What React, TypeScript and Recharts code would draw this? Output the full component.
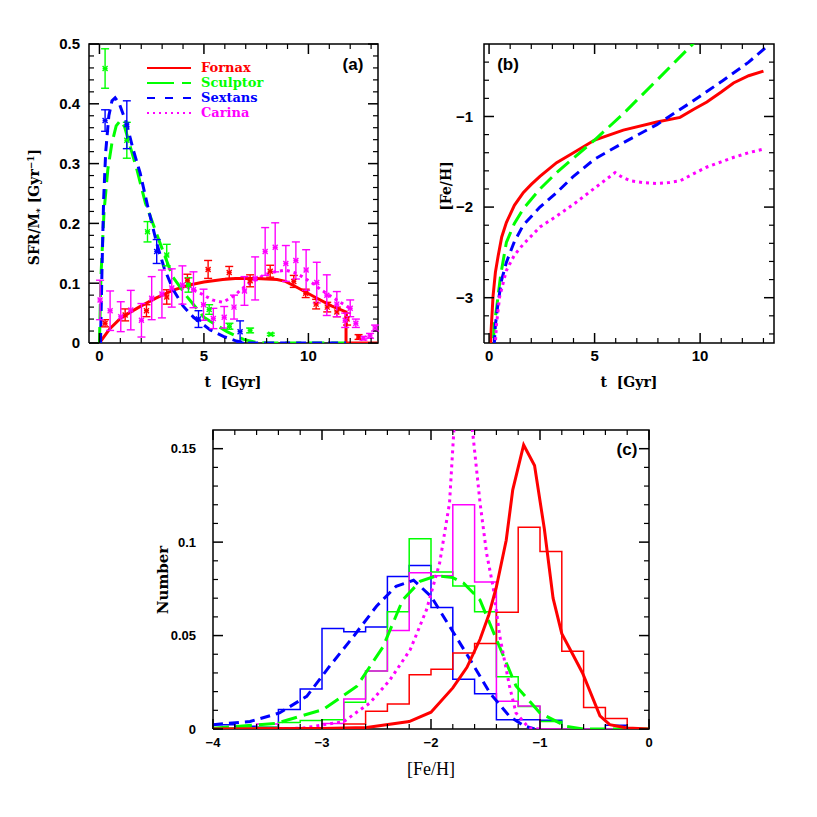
import React from "react";
import { ComposedChart, Line, Scatter, ErrorBar, XAxis, YAxis } from "recharts";

const RED = "#ff0000";
const GREEN = "#00ff00";
const BLUE = "#0000ff";
const MAGENTA = "#ff00ff";

// ---- panel (a): SFR / M* vs t ----
const sfrFornax = [
  [0, 0], [0.5, 0.024], [1, 0.041], [1.5, 0.052], [2, 0.062], [2.7, 0.075], [3.5, 0.088],
  [4.3, 0.097], [5, 0.102], [5.9, 0.106], [6.5, 0.108], [7.5, 0.108], [8.5, 0.106], [8.9, 0.103],
  [9.4, 0.094], [10.3, 0.077], [11.1, 0.062], [11.8, 0.052], [11.8, 0], [13.3, 0],
];
const sfrSculptor = [
  [0, 0], [0.07, 0.11], [0.22, 0.22], [0.4, 0.29], [0.6, 0.335], [0.8, 0.363], [1.0, 0.372],
  [1.2, 0.362], [1.5, 0.325], [1.8, 0.289], [2.2, 0.234], [2.9, 0.167], [3.5, 0.111], [4.2, 0.077],
  [5, 0.043], [6.1, 0.019], [6.9, 0.006], [7.5, 0.001], [8, 0], [11.8, 0],
];
const sfrSextans = [
  [0.05, 0], [0.12, 0.12], [0.2, 0.24], [0.3, 0.32], [0.45, 0.38], [0.6, 0.405], [0.75, 0.41],
  [0.95, 0.4], [1.3, 0.367], [1.6, 0.325], [1.95, 0.284], [2.3, 0.23], [2.74, 0.167], [3.1, 0.125],
  [3.53, 0.089], [4.0, 0.062], [4.5, 0.043], [5.3, 0.022], [6.0, 0.01], [6.5, 0.004], [7, 0], [11.8, 0],
];
const sfrCarina = [
  [4.2, 0.093], [4.6, 0.087], [5.0, 0.08], [5.4, 0.072], [5.9, 0.068], [6.5, 0.08], [6.75, 0.089],
  [7.2, 0.1], [7.6, 0.108], [7.9, 0.114], [8.4, 0.119], [8.9, 0.122], [9.3, 0.118], [9.7, 0.111],
  [10.2, 0.1], [10.6, 0.089], [11.3, 0.073], [11.85, 0.061], [12.0, 0.058],
];

// observed SFR points: [t, value, error]
const obsFornax = [
  [0.27, 0.033, 0.006], [1.23, 0.047, 0.01], [2.25, 0.054, 0.01], [3.22, 0.077, 0.012],
  [4.21, 0.105, 0.01], [5.2, 0.123, 0.015], [6.21, 0.118, 0.01], [7.21, 0.104, 0.01],
  [8.17, 0.12, 0.01], [9.3, 0.103, 0.01], [9.87, 0.083, 0.007], [10.37, 0.065, 0.008],
  [10.9, 0.06, 0.008], [11.36, 0.052, 0.008], [11.85, 0.04, 0.01], [12.4, 0.01, 0.004],
];
const obsSculptor = [
  [0.27, 0.459, 0.033], [1.31, 0.339, 0.03], [2.3, 0.186, 0.017], [3.22, 0.147, 0.018],
  [4.26, 0.097, 0.012], [5.25, 0.056, 0.008], [6.22, 0.028, 0.005], [7.21, 0.021, 0.004],
  [8.2, 0.0145, 0.002],
];
const obsSextans = [
  [0.27, 0.372, 0.018], [1.31, 0.365, 0.04], [2.74, 0.153, 0.02], [4.74, 0.04, 0.014],
  [6.73, 0.019, 0.018],
];
const obsCarina = [
  [0.03, 0.072, 0.033], [0.51, 0.054, 0.033], [1.02, 0.044, 0.025], [1.5, 0.055, 0.033],
  [2.01, 0.038, 0.028], [2.5, 0.075, 0.036], [2.99, 0.082, 0.04], [3.46, 0.092, 0.032],
  [3.97, 0.097, 0.032], [4.5, 0.089, 0.03], [4.98, 0.064, 0.026], [5.45, 0.041, 0.017],
  [5.97, 0.043, 0.018], [6.44, 0.06, 0.02], [6.94, 0.087, 0.024], [7.45, 0.108, 0.036],
  [7.93, 0.153, 0.04], [8.41, 0.16, 0.041], [8.92, 0.133, 0.03], [9.4, 0.138, 0.031],
  [9.89, 0.122, 0.034], [10.4, 0.101, 0.034], [10.88, 0.08, 0.034], [11.36, 0.065, 0.021],
  [11.76, 0.038, 0.012], [12.0, 0.058, 0.014], [12.27, 0.033, 0.007], [12.63, 0.008, 0.003],
  [12.95, 0.012, 0.004], [13.19, 0.025, 0.005],
];

// ---- panel (b): [Fe/H] vs t ----
const feFornax = [
  [0.05, -3.7], [0.1, -3.35], [0.19, -2.98], [0.3, -2.72], [0.43, -2.54], [0.6, -2.33],
  [0.82, -2.17], [1.2, -1.98], [1.62, -1.84], [2.0, -1.75], [2.41, -1.66], [3.2, -1.51],
  [4.0, -1.4], [5.0, -1.26], [6.36, -1.15], [7.95, -1.06], [9.05, -1.01], [9.7, -0.92],
  [10.32, -0.84], [11.0, -0.73], [11.58, -0.63], [12.3, -0.55], [13.0, -0.5],
];
const feSculptor = [
  [0.15, -3.7], [0.25, -3.3], [0.37, -3.09], [0.55, -2.75], [0.82, -2.39], [1.2, -2.18],
  [1.62, -2.02], [2.41, -1.8], [3.2, -1.62], [4.0, -1.46], [5.0, -1.26], [6.36, -0.97],
  [7.0, -0.82], [7.95, -0.6], [8.8, -0.4], [9.53, -0.23], [10.5, 0], [11, 0.1],
];
const feSextans = [
  [0.2, -3.7], [0.3, -3.3], [0.43, -3.05], [0.6, -2.8], [0.82, -2.61], [1.2, -2.38],
  [1.62, -2.2], [2.41, -2.0], [3.2, -1.84], [4.0, -1.66], [5.0, -1.47], [6.36, -1.29],
  [7.95, -1.09], [9.53, -0.85], [11.1, -0.6], [12.3, -0.4], [13.2, -0.22],
];
const feCarina = [
  [0.25, -3.7], [0.35, -3.3], [0.5, -2.99], [0.82, -2.7], [1.2, -2.53], [1.62, -2.41],
  [2.41, -2.22], [3.2, -2.1], [4.0, -1.97], [4.78, -1.83], [5.4, -1.72], [5.97, -1.62],
  [6.3, -1.67], [6.7, -1.71], [7.3, -1.73], [7.95, -1.74], [8.5, -1.73], [9.05, -1.71],
  [9.7, -1.63], [10.3, -1.56], [11.0, -1.5], [11.6, -1.45], [12.3, -1.4], [13.0, -1.36],
];

// ---- panel (c): metallicity distributions ----
const binLeft = [-4, -3.8, -3.6, -3.4, -3.2, -3, -2.8, -2.6, -2.4, -2.2, -2, -1.8, -1.6, -1.4, -1.2, -1, -0.8, -0.6, -0.4, -0.2];
const histFornax = [0, 0, 0.0005, 0.0005, 0.0005, 0.0005, 0.0027, 0.0095, 0.0134, 0.029, 0.032, 0.0407, 0.0457, 0.0625, 0.108, 0.095, 0.0416, 0.0115, 0.0056, 0];
const histSculptor = [0.0005, 0.0005, 0.001, 0.0035, 0.0045, 0.005, 0.0143, 0.031, 0.0627, 0.1018, 0.084, 0.0765, 0.0627, 0.028, 0.012, 0.004, 0, 0, 0, 0];
const histSextans = [0.0023, 0.0015, 0.001, 0.0104, 0.0214, 0.0538, 0.052, 0.0546, 0.0816, 0.0875, 0.065, 0.0266, 0.0188, 0.005, 0.005, 0.0047, 0, 0, 0.002, 0];
const histCarina = [0, 0, 0.0027, 0.0005, 0.0005, 0.003, 0.016, 0.031, 0.0527, 0.0836, 0.082, 0.12, 0.0786, 0.0148, 0.0123, 0, 0, 0, 0, 0];

const mdfFornax = [
  [-4, 0], [-3, 0.0003], [-2.59, 0.0008], [-2.2, 0.004], [-2.0, 0.009], [-1.8, 0.022],
  [-1.67, 0.033], [-1.55, 0.048], [-1.47, 0.061], [-1.4, 0.076], [-1.31, 0.101], [-1.25, 0.128],
  [-1.15, 0.152], [-1.05, 0.141], [-0.96, 0.107], [-0.88, 0.07], [-0.8, 0.051], [-0.7, 0.04],
  [-0.61, 0.03], [-0.45, 0.007], [-0.36, 0.0023], [-0.2, 0.0005], [0, 0],
];
const mdfSculptor = [
  [-4, 0.0004], [-3.42, 0.003], [-2.99, 0.0104], [-2.68, 0.0229], [-2.44, 0.044], [-2.26, 0.069],
  [-2.1, 0.079], [-1.95, 0.082], [-1.8, 0.081], [-1.7, 0.078], [-1.55, 0.069], [-1.4, 0.048],
  [-1.22, 0.023], [-1.0, 0.0086], [-0.76, 0.0014], [-0.6, 0], [0, 0],
];
const mdfSextans = [
  [-4, 0.0023], [-3.66, 0.004], [-3.39, 0.0086], [-3.14, 0.0175], [-2.93, 0.0336], [-2.71, 0.0496],
  [-2.5, 0.0657], [-2.32, 0.0764], [-2.16, 0.0796], [-2.0, 0.071], [-1.83, 0.055], [-1.64, 0.037],
  [-1.46, 0.0193], [-1.28, 0.0068], [-1.15, 0.0018], [-1.05, 0],
];
const mdfCarina = [
  [-3.5, 0], [-3.17, 0.0005], [-2.8, 0.004], [-2.56, 0.014], [-2.38, 0.026], [-2.19, 0.0425],
  [-2.04, 0.064], [-1.92, 0.089], [-1.83, 0.121], [-1.79, 0.16], [-1.7, 0.21], [-1.62, 0.16],
  [-1.55, 0.121], [-1.49, 0.094], [-1.43, 0.076], [-1.37, 0.05], [-1.28, 0.023], [-1.22, 0.0086],
  [-1.1, 0.0005], [-1.0, 0],
];

// ---- ticks ----
const aXMajor = [0, 5, 10];
const aXMinor = [1, 2, 3, 4, 6, 7, 8, 9, 11, 12, 13];
const aYMajor = [0, 0.1, 0.2, 0.3, 0.4, 0.5];
const aYMinor = [0.02, 0.04, 0.06, 0.08, 0.12, 0.14, 0.16, 0.18, 0.22, 0.24, 0.26, 0.28, 0.32, 0.34, 0.36, 0.38, 0.42, 0.44, 0.46, 0.48];
const bYMajor = [-3, -2, -1];
const bYMinor = [-3.4, -3.2, -2.8, -2.6, -2.4, -2.2, -1.8, -1.6, -1.4, -1.2, -0.8, -0.6, -0.4];
const cXMajor = [-4, -3, -2, -1, 0];
const cXMinor = [-3.8, -3.6, -3.4, -3.2, -2.8, -2.6, -2.4, -2.2, -1.8, -1.6, -1.4, -1.2, -0.8, -0.6, -0.4, -0.2];
const cYMajor = [0, 0.05, 0.1, 0.15];
const cYMinor = [0.01, 0.02, 0.03, 0.04, 0.06, 0.07, 0.08, 0.09, 0.11, 0.12, 0.13, 0.14];

const series = [
  { name: "Fornax", color: RED, dash: undefined as string | undefined, legendDash: undefined as string | undefined },
  { name: "Sculptor", color: GREEN, dash: "16 7", legendDash: "27 8" },
  { name: "Sextans", color: BLUE, dash: "10 6", legendDash: "8 10" },
  { name: "Carina", color: MAGENTA, dash: "3 4", legendDash: "2 4" },
];

const pts = (a: number[][]) => a.map(([x, y]) => ({ x, y }));
const errPts = (a: number[][]) => a.map(([x, y, e]) => ({ x, y, e }));
const steps = (vals: number[]) => [
  ...binLeft.map((x, i) => ({ x, y: vals[i] })),
  { x: 0, y: vals[vals.length - 1] },
];
const minus = (v: number) => String(v).replace("-", "\u2212");

const TICK_FONT = "'Liberation Sans', Arial, sans-serif";
const SERIF_BOLD = "'DejaVu Serif', serif";
const MAJOR = 10;
const MINOR = 5;

type Side = "bottom" | "top" | "left" | "right";

// inward tick mark drawn at a point on the frame
const tickShape = (side: Side, len: number, sw: number) => (p: any) => {
  const { cx, cy } = p;
  const dx = side === "left" ? len : side === "right" ? -len : 0;
  const dy = side === "bottom" ? -len : side === "top" ? len : 0;
  return <line x1={cx} y1={cy} x2={cx + dx} y2={cy + dy} stroke="#000" strokeWidth={sw} />;
};

// tick label outside the frame (bottom or left)
const labelShape = (side: "bottom" | "left", gap: number, fs: number) => (p: any) => {
  const { cx, cy, payload } = p;
  const v = side === "bottom" ? payload?.x : payload?.y;
  const style = { fill: "#000", fontSize: fs, fontWeight: 700, fontFamily: TICK_FONT };
  return side === "bottom"
    ? <text x={cx} y={cy + gap} dy="0.72em" textAnchor="middle" style={style}>{minus(v)}</text>
    : <text x={cx - gap} y={cy} dy="0.36em" textAnchor="end" style={style}>{minus(v)}</text>;
};

function frame(o: {
  xDom: number[]; yDom: number[];
  xMajor: number[]; xMinor: number[]; yMajor: number[]; yMinor: number[];
  fs: number; xGap: number; yGap: number;
}) {
  const [x0, x1] = o.xDom;
  const [y0, y1] = o.yDom;
  const box = [{ x: x0, y: y0 }, { x: x1, y: y0 }, { x: x1, y: y1 }, { x: x0, y: y1 }, { x: x0, y: y0 }];
  const sides: { side: Side; major: { x: number; y: number }[]; minor: { x: number; y: number }[] }[] = [
    { side: "bottom", major: o.xMajor.map((v) => ({ x: v, y: y0 })), minor: o.xMinor.map((v) => ({ x: v, y: y0 })) },
    { side: "top", major: o.xMajor.map((v) => ({ x: v, y: y1 })), minor: o.xMinor.map((v) => ({ x: v, y: y1 })) },
    { side: "left", major: o.yMajor.map((v) => ({ x: x0, y: v })), minor: o.yMinor.map((v) => ({ x: x0, y: v })) },
    { side: "right", major: o.yMajor.map((v) => ({ x: x1, y: v })), minor: o.yMinor.map((v) => ({ x: x1, y: v })) },
  ];
  const sc = { xAxisId: "f", yAxisId: "f", dataKey: "y", isAnimationActive: false };
  return [
    // scales for the data series (clipped to the plot box)
    <XAxis key="xd" xAxisId="x" dataKey="x" type="number" domain={o.xDom} allowDataOverflow hide height={0} />,
    <YAxis key="yd" yAxisId="y" dataKey="y" type="number" domain={o.yDom} allowDataOverflow hide width={0} />,
    // same scales for the frame, ticks and tick labels (not clipped)
    <XAxis key="xf" xAxisId="f" dataKey="x" type="number" domain={o.xDom} hide height={0} />,
    <YAxis key="yf" yAxisId="f" dataKey="y" type="number" domain={o.yDom} hide width={0} />,
    <Line key="box" xAxisId="f" yAxisId="f" data={box} dataKey="y" type="linear" stroke="#000"
      strokeWidth={1.5} dot={false} activeDot={false} isAnimationActive={false} />,
    ...sides.flatMap((s) => [
      <Scatter key={`${s.side}M`} {...sc} data={s.major} shape={tickShape(s.side, MAJOR, 1.5)} />,
      <Scatter key={`${s.side}m`} {...sc} data={s.minor} shape={tickShape(s.side, MINOR, 1.2)} />,
    ]),
    <Scatter key="xl" {...sc} data={sides[0].major} shape={labelShape("bottom", o.xGap, o.fs)} />,
    <Scatter key="yl" {...sc} data={sides[2].major} shape={labelShape("left", o.yGap, o.fs)} />,
  ];
}

const Star = (props: any) => {
  const { cx, cy, fill } = props;
  const r = 2.5;
  return (
    <g stroke={fill} strokeWidth={1.4}>
      <line x1={cx - r} y1={cy - r} x2={cx + r} y2={cy + r} />
      <line x1={cx - r} y1={cy + r} x2={cx + r} y2={cy - r} />
      <line x1={cx - r} y1={cy} x2={cx + r} y2={cy} />
    </g>
  );
};

function curve(key: string, data: number[][], s: typeof series[number], w = 3) {
  return (
    <Line key={key} xAxisId="x" yAxisId="y" data={pts(data)} dataKey="y" type="linear"
      stroke={s.color} strokeWidth={w} strokeDasharray={s.dash} dot={false}
      activeDot={false} isAnimationActive={false} />
  );
}

function obs(key: string, data: number[][], color: string) {
  return (
    <Scatter key={key} xAxisId="x" yAxisId="y" data={errPts(data)} dataKey="y" fill={color}
      shape={Star} isAnimationActive={false}>
      <ErrorBar dataKey="e" direction="y" width={4} stroke={color} strokeWidth={1.4} />
    </Scatter>
  );
}

function hist(key: string, vals: number[], color: string) {
  return (
    <Line key={key} xAxisId="x" yAxisId="y" data={steps(vals)} dataKey="y" type="stepAfter"
      stroke={color} strokeWidth={1.5} dot={false} activeDot={false} isAnimationActive={false} />
  );
}

const LegendBlock = () => (
  <div style={{ position: "absolute", left: 147, top: 60, fontFamily: SERIF_BOLD, fontWeight: 700, fontSize: 13, lineHeight: "15px" }}>
    {series.map((s) => (
      <div key={s.name} style={{ display: "flex", alignItems: "center", height: 15 }}>
        <svg width={46} height={8} style={{ marginRight: 8 }}>
          <line x1={0} y1={4} x2={44} y2={4} stroke={s.color} strokeWidth={2} strokeDasharray={s.legendDash} />
        </svg>
        <span style={{ color: s.color }}>{s.name}</span>
      </div>
    ))}
  </div>
);

const label = (text: React.ReactNode, cx: number, cy: number, style: React.CSSProperties, rotate = false) => (
  <div style={{
    position: "absolute", left: cx, top: cy, whiteSpace: "pre",
    transform: `translate(-50%, -50%)${rotate ? " rotate(-90deg)" : ""}`, ...style,
  }}>{text}</div>
);

export default function App() {
  const titleStyle: React.CSSProperties = { fontFamily: SERIF_BOLD, fontWeight: 700, fontSize: 14 };
  const panelTag: React.CSSProperties = { fontFamily: TICK_FONT, fontWeight: 700, fontSize: 17 };
  return (
    <div style={{ position: "absolute", left: 0, top: 0, width: 817, height: 817, background: "#fff" }}>
      <div style={{ position: "absolute", left: 0, top: 0 }}>
        <ComposedChart width={400} height={400} margin={{ top: 44, left: 89, right: 22, bottom: 57 }}>
          {frame({ xDom: [-0.5, 13.33], yDom: [0, 0.5], xMajor: aXMajor, xMinor: aXMinor,
            yMajor: aYMajor, yMinor: aYMinor, fs: 15, xGap: 7, yGap: 9 })}
          {curve("cf", sfrCarina, series[3])}
          {curve("f", sfrFornax, series[0])}
          {curve("s", sfrSculptor, series[1])}
          {curve("x", sfrSextans, series[2])}
          {obs("of", obsFornax, RED)}
          {obs("os", obsSculptor, GREEN)}
          {obs("ox", obsSextans, BLUE)}
          {obs("oc", obsCarina, MAGENTA)}
        </ComposedChart>
      </div>
      <LegendBlock />
      <div style={{ position: "absolute", left: 400, top: 0 }}>
        <ComposedChart width={417} height={400} margin={{ top: 44, left: 84, right: 43, bottom: 57 }}>
          {frame({ xDom: [-0.24, 13.5], yDom: [-3.5, -0.2], xMajor: aXMajor, xMinor: aXMinor,
            yMajor: bYMajor, yMinor: bYMinor, fs: 15, xGap: 7, yGap: 11 })}
          {curve("f", feFornax, series[0])}
          {curve("s", feSculptor, series[1])}
          {curve("x", feSextans, series[2])}
          {curve("c", feCarina, series[3])}
        </ComposedChart>
      </div>
      <div style={{ position: "absolute", left: 0, top: 400 }}>
        <ComposedChart width={817} height={417} margin={{ top: 30, left: 213, right: 168, bottom: 88 }}>
          {frame({ xDom: [-4, 0], yDom: [0, 0.16], xMajor: cXMajor, xMinor: cXMinor,
            yMajor: cYMajor, yMinor: cYMinor, fs: 13, xGap: 9, yGap: 17 })}
          {hist("hx", histSextans, BLUE)}
          {hist("hs", histSculptor, GREEN)}
          {hist("hc", histCarina, MAGENTA)}
          {hist("hf", histFornax, RED)}
          {curve("mx", mdfSextans, series[2])}
          {curve("ms", mdfSculptor, series[1])}
          {curve("mc", mdfCarina, series[3])}
          {curve("mf", mdfFornax, series[0])}
        </ComposedChart>
      </div>
      {label("(a)", 353, 65, panelTag)}
      {label("(b)", 508, 65, panelTag)}
      {label("(c)", 627, 450, panelTag)}
      {label("t  [Gyr]", 233, 382, titleStyle)}
      {label("t  [Gyr]", 629, 382, titleStyle)}
      {label(<span>SFR/M<sub style={{ fontSize: 9 }}>*</sub> [Gyr<sup style={{ fontSize: 9 }}>−1</sup>]</span>, 35, 207, titleStyle, true)}
      {label("[Fe/H]", 446, 186, titleStyle, true)}
      {label("Number", 163, 580, { ...titleStyle, fontSize: 15 }, true)}
      {label("[Fe/H]", 431, 769, { fontFamily: "'Liberation Serif', serif", fontSize: 18 })}
    </div>
  );
}
